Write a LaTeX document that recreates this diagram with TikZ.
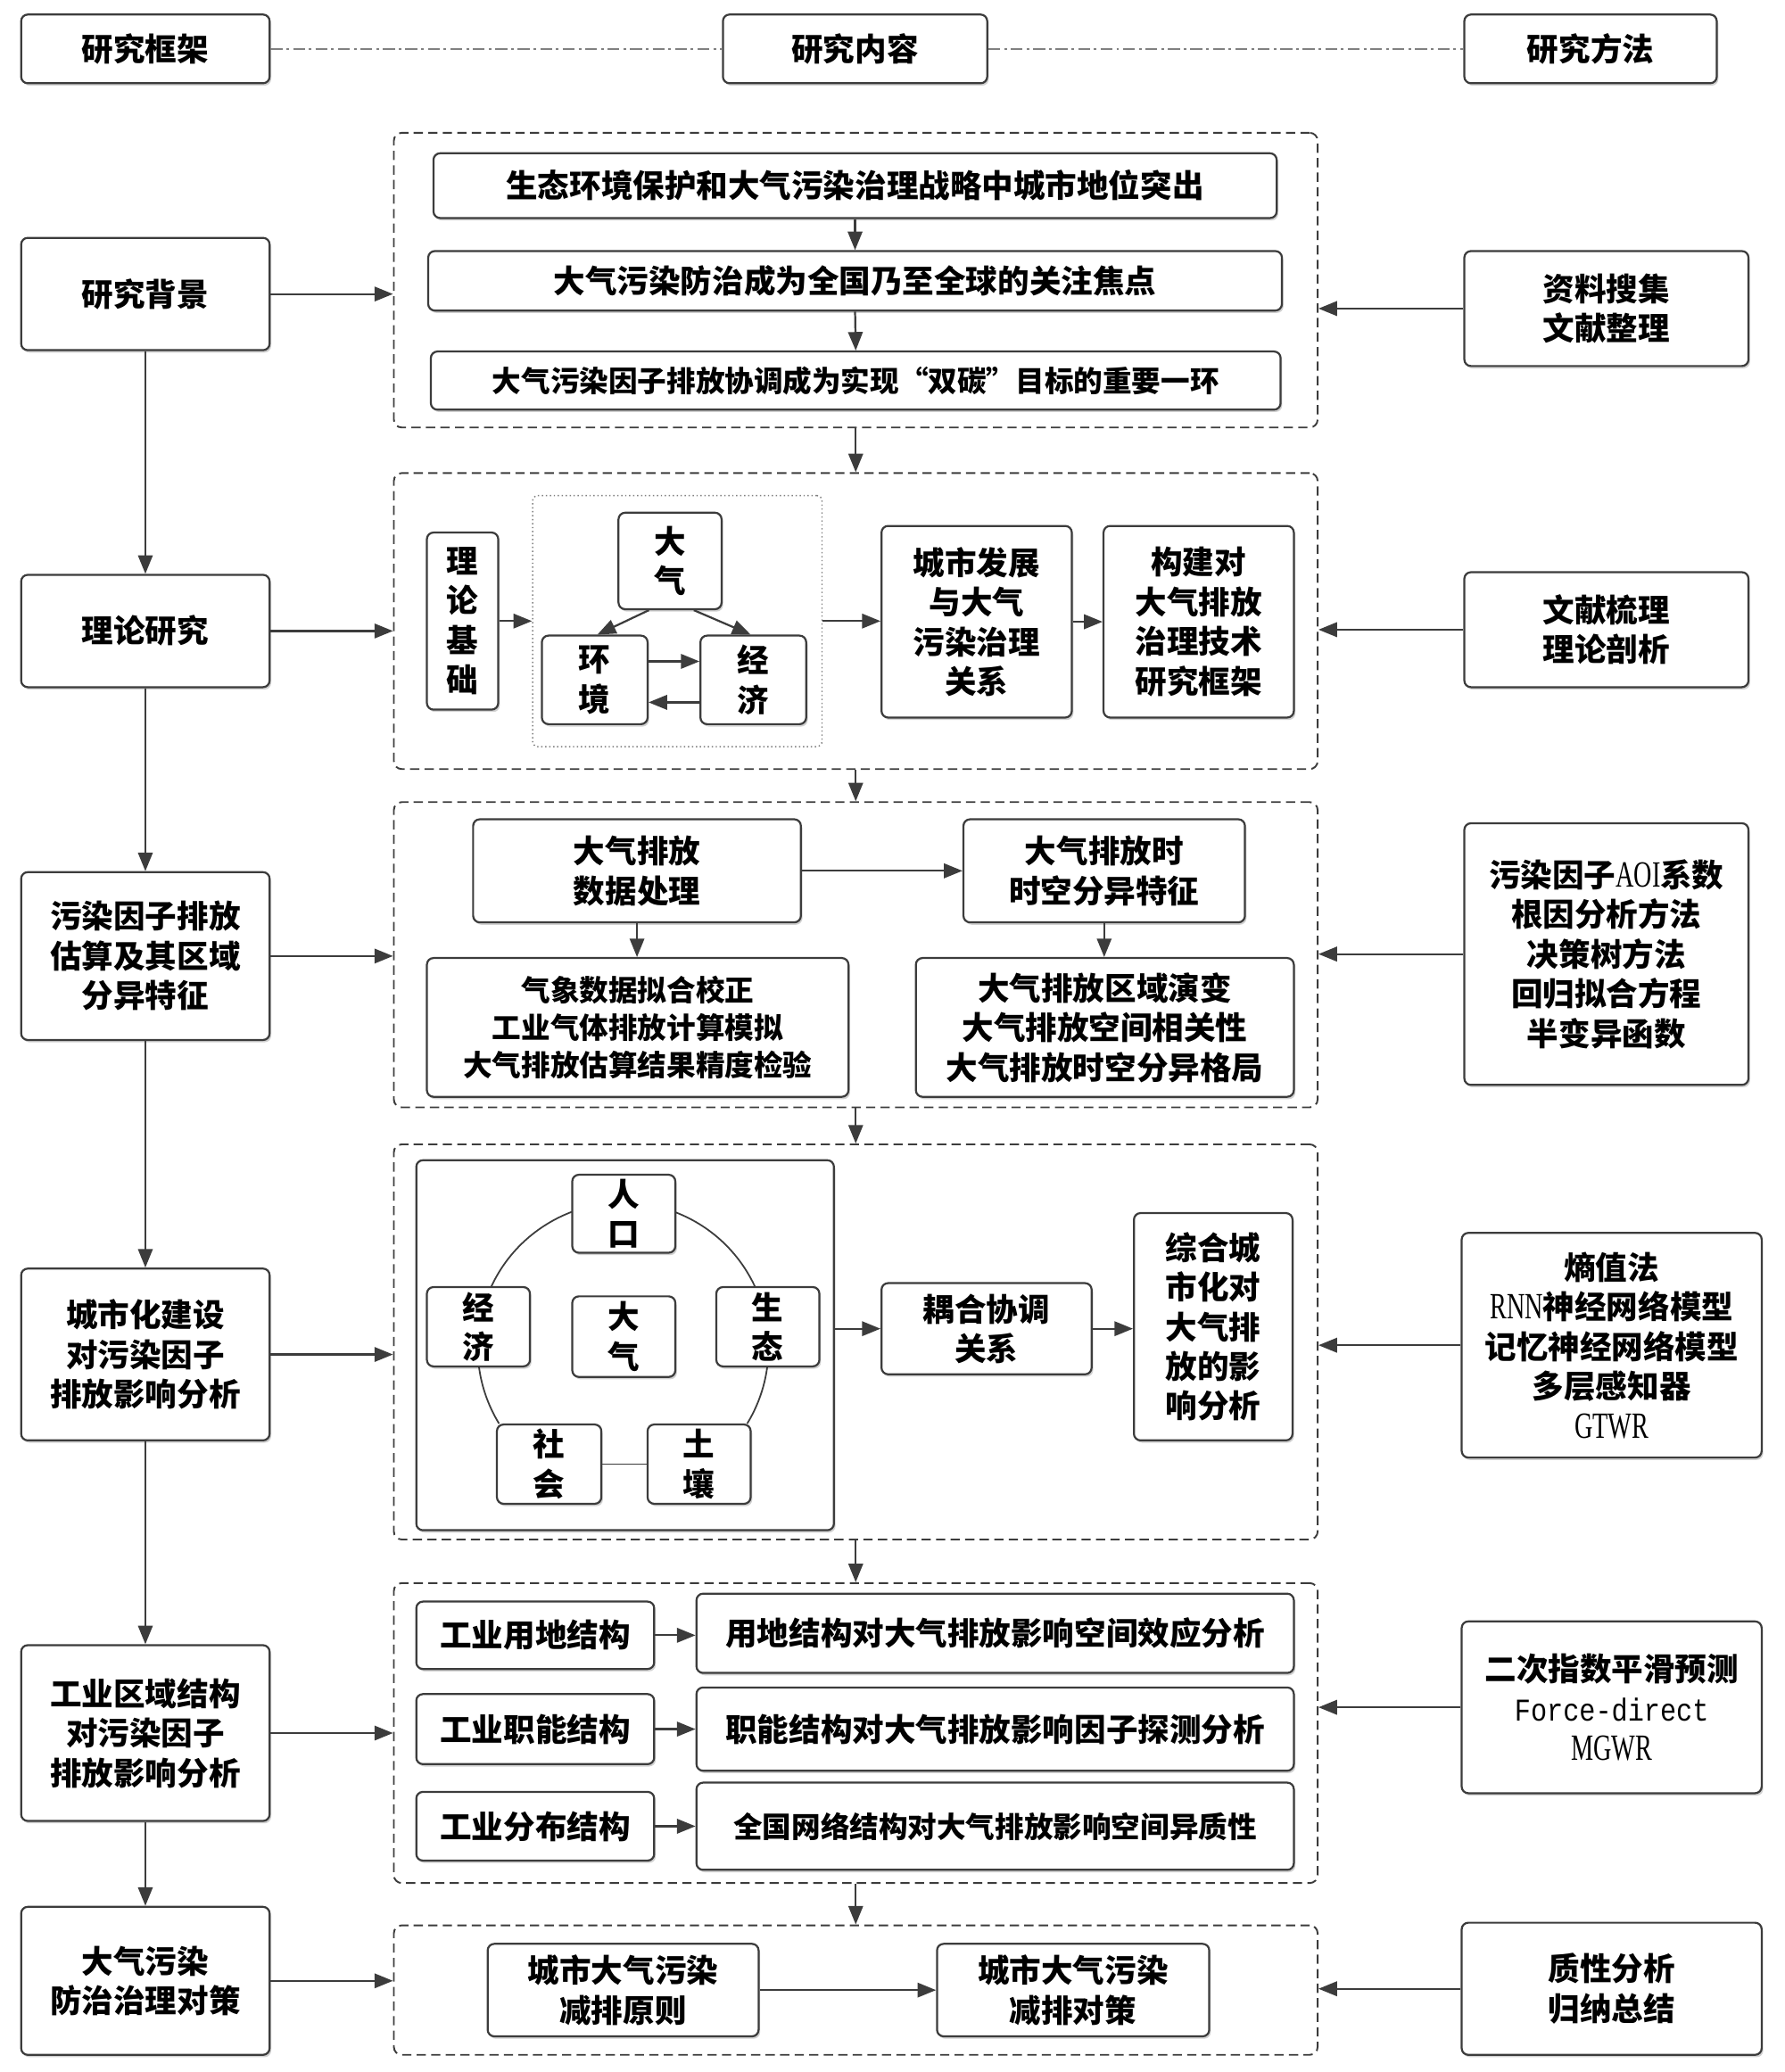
\documentclass[tikz,border=0pt]{standalone}
\usepackage{fontspec}
\usepackage{graphicx}
\setmainfont{Noto Sans CJK SC}
\newfontfamily\latf{Liberation Serif}
\newfontfamily\monof{Liberation Mono}
\usetikzlibrary{arrows.meta,shadows,calc}
\definecolor{lc}{HTML}{3C3C3C}
\newcommand\lt[1]{\scalebox{0.68}[1]{\latf\mdseries\fontsize{28}{30}\selectfont #1}}
\begin{document}
\begin{tikzpicture}[x=1pt,y=-1pt,
  every node/.style={font=\fontsize{24}{30}\selectfont\bfseries, align=center, inner sep=0pt, text=black},
  sm/.style={font=\fontsize{22}{28.5}\selectfont\bfseries},
  box/.style={draw=lc, line width=1.5pt, rounded corners=5pt, fill=white,
    drop shadow={shadow xshift=1.2pt, shadow yshift=-1.8pt, fill=black, opacity=0.18}},
  cont/.style={draw=lc, dash pattern=on 7pt off 4pt, line width=1.3pt, rounded corners=6pt},
  dotbox/.style={draw=gray, dotted, line width=1pt, rounded corners=4pt},
  arr/.style={draw=lc, line width=1.5pt, -{Triangle[length=14pt,width=11pt]}},
  ln/.style={draw=lc, line width=1.2pt},
  hdl/.style={draw=gray, line width=1.2pt, dash pattern=on 9pt off 3pt on 2pt off 3pt},
]
\fill[white] (0,0) rectangle (1350,1568);
\useasboundingbox (0,0) rectangle (1350,1568);

% headers
\node[box, minimum width=188, minimum height=52] (H1) at (110,37) {研究框架};
\node[box, minimum width=200, minimum height=52] (H2) at (647,37) {研究内容};
\node[box, minimum width=191, minimum height=52] (H3) at (1203.5,37) {研究方法};
\draw[hdl] (H1.east) -- (H2.west);
\draw[hdl] (H2.east) -- (H3.west);

% left column
\node[box, minimum width=188, minimum height=85] (L1) at (110,222.5) {研究背景};
\node[box, minimum width=188, minimum height=85] (L2) at (110,477.5) {理论研究};
\node[box, minimum width=188, minimum height=127] (L3) at (110,723.5) {污染因子排放\\估算及其区域\\分异特征};
\node[box, minimum width=188, minimum height=130] (L4) at (110,1025) {城市化建设\\对污染因子\\排放影响分析};
\node[box, minimum width=188, minimum height=133] (L5) at (110,1311.5) {工业区域结构\\对污染因子\\排放影响分析};
\node[box, minimum width=188, minimum height=112] (L6) at (110,1499) {大气污染\\防治治理对策};
\draw[arr] (L1.south) -- (L2.north);
\draw[arr] (L2.south) -- (L3.north);
\draw[arr] (L3.south) -- (L4.north);
\draw[arr] (L4.south) -- (L5.north);
\draw[arr] (L5.south) -- (L6.north);

% right column
\node[box, minimum width=215, minimum height=87] (R1) at (1215.5,233.5) {资料搜集\\文献整理};
\node[box, minimum width=215, minimum height=87] (R2) at (1215.5,476.5) {文献梳理\\理论剖析};
\node[box, minimum width=215, minimum height=198] (R3) at (1215.5,722) {污染因子\lt{AOI}系数\\根因分析方法\\决策树方法\\回归拟合方程\\半变异函数};
\node[box, minimum width=227, minimum height=170] (R4) at (1219.5,1018) {熵值法\\\lt{RNN}神经网络模型\\记忆神经网络模型\\多层感知器\\\lt{GTWR}};
\node[box, minimum width=227, minimum height=130] (R5) at (1219.5,1292) {二次指数平滑预测\\\scalebox{0.85}[1]{\monof\mdseries\fontsize{24}{30}\selectfont Force-direct}\\\lt{MGWR}};
\node[box, minimum width=227, minimum height=100] (R6) at (1219.5,1505) {质性分析\\归纳总结};

% containers
\node[cont, minimum width=699, minimum height=223] (C1) at (647.5,212) {};
\node[cont, minimum width=699, minimum height=224] (C2) at (647.5,470) {};
\node[cont, minimum width=699, minimum height=231] (C3) at (647.5,722.5) {};
\node[cont, minimum width=699, minimum height=299] (C4) at (647.5,1015.5) {};
\node[cont, minimum width=699, minimum height=227] (C5) at (647.5,1311.5) {};
\node[cont, minimum width=699, minimum height=98] (C6) at (647.5,1506) {};
\draw[arr] (C1.south) -- (C2.north);
\draw[arr] (C2.south) -- (C3.north);
\draw[arr] (C3.south) -- (C4.north);
\draw[arr] (C4.south) -- (C5.north);
\draw[arr] (C5.south) -- (C6.north);

\foreach \l/\c in {L1/C1,L2/C2,L3/C3,L4/C4,L5/C5,L6/C6}
  \draw[arr] (\l.east) -- (\l.east -| \c.west);
\foreach \r/\c in {R1/C1,R2/C2,R3/C3,R4/C4,R5/C5,R6/C6}
  \draw[arr] (\r.west) -- (\r.west -| \c.east);

% C1
\node[box, minimum width=638, minimum height=49] (B1) at (647,140.5) {生态环境保护和大气污染治理战略中城市地位突出};
\node[box, minimum width=646, minimum height=45] (B2) at (647,212.5) {大气污染防治成为全国乃至全球的关注焦点};
\node[box, sm, minimum width=643, minimum height=44] (B3) at (647.5,288) {大气污染因子排放协调成为实现“双碳”目标的重要一环};
\draw[arr] (B1.south) -- (B2.north);
\draw[arr] (B2.south) -- (B3.north);

% C2
\node[box, minimum width=54, minimum height=134] (LJ) at (350,470) {理\\论\\基\\础};
\node[dotbox, minimum width=219, minimum height=190] (DB) at (512.5,470) {};
\node[box, minimum width=78, minimum height=73] (DQ) at (507,424.5) {大\\气};
\node[box, minimum width=80, minimum height=67] (HJ) at (450,514.5) {环\\境};
\node[box, minimum width=80, minimum height=67] (JJ) at (570,514.5) {经\\济};
\node[box, minimum width=144, minimum height=145] (CS) at (739,470.5) {城市发展\\与大气\\污染治理\\关系};
\node[box, minimum width=144, minimum height=145] (GJ) at (907,470.5) {构建对\\大气排放\\治理技术\\研究框架};
\draw[arr] (LJ.east) -- (LJ.east -| DB.west);
\draw[arr] (DB.east) -- (DB.east -| CS.west);
\draw[arr] (CS.east) -- (CS.east -| GJ.west);
\draw[arr] ($(DQ.south)+(-16,0)$) -- ($(HJ.north)+(2,0)$);
\draw[arr] ($(DQ.south)+(18,0)$) -- ($(JJ.north)+(-2,0)$);
\draw[arr] ($(HJ.east)+(0,-14)$) -- ($(JJ.west)+(0,-14)$);
\draw[arr] ($(JJ.west)+(0,17)$) -- ($(HJ.east)+(0,17)$);

% C3
\node[box, minimum width=248, minimum height=78] (SJ) at (482,659) {大气排放\\数据处理};
\node[box, minimum width=213, minimum height=78] (SK) at (835.5,659) {大气排放时\\时空分异特征};
\node[box, sm, minimum width=319, minimum height=105] (QX) at (482.5,777.5) {气象数据拟合校正\\工业气体排放计算模拟\\大气排放估算结果精度检验};
\node[box, minimum width=286, minimum height=105] (QY) at (836,777.5) {大气排放区域演变\\大气排放空间相关性\\大气排放时空分异格局};
\draw[arr] (SJ.east) -- (SK.west);
\draw[arr] (SJ.south) -- (QX.north -| SJ.south);
\draw[arr] (SK.south) -- (QY.north -| SK.south);

% C4
\node[box, minimum width=316, minimum height=280] (S) at (473,1018) {};
\draw[ln] ($(471.5,1020)+(148.6:110)$) arc[start angle=148.6, end angle=391.4, radius=110];
\node[box, minimum width=78, minimum height=59] (RK) at (472,918.5) {人\\口};
\node[box, minimum width=78, minimum height=60] (JJb) at (362,1004) {经\\济};
\node[box, minimum width=78, minimum height=61] (DQb) at (472,1011.5) {大\\气};
\node[box, minimum width=78, minimum height=60] (ST) at (581,1004) {生\\态};
\node[box, minimum width=79, minimum height=60] (SH) at (415.5,1108) {社\\会};
\node[box, minimum width=78, minimum height=60] (TR) at (529,1108) {土\\壤};
\draw[ln] (SH.east) -- (TR.west);
\node[box, minimum width=159, minimum height=69] (OH) at (746.5,1005.5) {耦合协调\\关系};
\node[box, minimum width=120, minimum height=172] (ZH) at (918,1004) {综合城\\市化对\\大气排\\放的影\\响分析};
\draw[arr] (OH.west -| S.east) -- (OH.west);
\draw[arr] (OH.east) -- (OH.east -| ZH.west);

% C5
\node[box, minimum width=180, minimum height=51] (G1) at (405,1237.5) {工业用地结构};
\node[box, minimum width=452, minimum height=60] (G1b) at (753,1236) {用地结构对大气排放影响空间效应分析};
\node[box, minimum width=180, minimum height=53] (G2) at (405,1308.5) {工业职能结构};
\node[box, minimum width=452, minimum height=63] (G2b) at (753,1308.5) {职能结构对大气排放影响因子探测分析};
\node[box, minimum width=180, minimum height=52] (G3) at (405,1382) {工业分布结构};
\node[box, sm, minimum width=452, minimum height=66] (G3b) at (753,1382) {全国网络结构对大气排放影响空间异质性};
\draw[arr] (G1.east) -- (G1.east -| G1b.west);
\draw[arr] (G2.east) -- (G2.east -| G2b.west);
\draw[arr] (G3.east) -- (G3.east -| G3b.west);

% C6
\node[box, minimum width=205, minimum height=70] (P1) at (471.5,1506) {城市大气污染\\减排原则};
\node[box, minimum width=206, minimum height=70] (P2) at (812,1506) {城市大气污染\\减排对策};
\draw[arr] (P1.east) -- (P2.west);
\end{tikzpicture}
\end{document}
